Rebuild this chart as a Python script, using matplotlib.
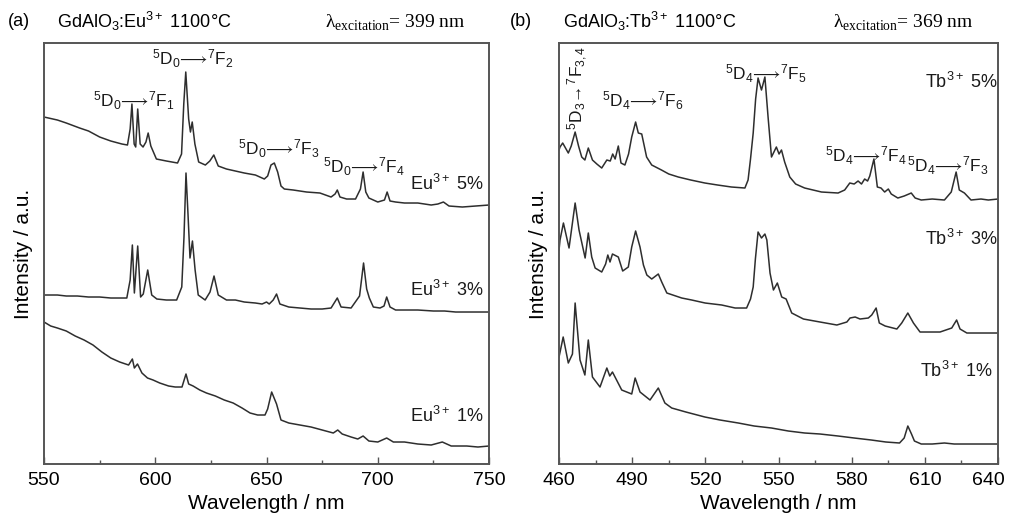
import matplotlib
matplotlib.use("Agg")
import matplotlib.pyplot as plt
from matplotlib.transforms import ScaledTranslation

plt.rcParams['font.family'] = ['Liberation Sans', 'DejaVu Sans']
plt.rcParams['mathtext.fontset'] = 'custom'
plt.rcParams['mathtext.rm'] = 'Liberation Sans'
plt.rcParams['mathtext.it'] = 'Liberation Sans:italic'

# --- (a) GdAlO3:Eu3+ spectra (intensity in arbitrary units) ---
eu5_wl = [550, 556, 560, 566, 570, 575, 580, 585, 587.5, 588.7, 589.5, 590.5, 591.2, 592.1,
          593.2, 594.5, 595.8, 596.8, 598, 600.5, 605, 610, 611.8, 612.8, 613.7, 615, 615.8,
          616.6, 617.8, 619.5, 622.5, 624.5, 626.3, 628.3, 632, 636, 640, 645, 649, 650.5, 652,
          653.5, 655, 656.5, 658, 662, 668, 674, 679, 680.8, 681.8, 683, 686, 690, 692.2, 693.4,
          694.6, 696, 700, 703, 704.2, 705.5, 708, 712, 718, 724, 727, 729.5, 732, 738, 744, 750]
eu5_int = [347, 344, 341, 336, 333, 327, 323, 320, 319, 335, 360, 320, 317, 355,
           320, 317, 322, 331, 318, 305, 303, 301, 310, 360, 392, 345, 332,
           342, 320, 302, 299, 303, 309, 298, 295, 293, 291, 289, 285, 288, 299,
           301, 292, 278, 275, 274, 272, 271, 267, 270, 274, 267, 265, 265, 275, 292,
           272, 266, 262, 264, 272, 263, 262, 261, 261, 259, 260, 262, 258, 257, 258, 259]

eu3_wl = [550, 556, 560, 565, 570, 575, 580, 584, 587.2, 588.7, 589.7, 590.6, 592.1, 593.4,
          594.6, 596.6, 598.4, 600.7, 605, 609.6, 611.9, 612.9, 613.8, 614.7, 615.6, 616.7,
          617.9, 619.3, 622.4, 624.6, 626.4, 628.3, 632, 636, 640, 645, 648, 650, 651.2, 653,
          654.5, 656, 660, 665, 670, 675, 679, 681.8, 683.5, 688, 691.8, 693.6, 695, 696.2, 698,
          701, 702.8, 704, 705.5, 708, 712, 718, 725, 730, 735, 740, 745, 750]
eu3_int = [169, 169, 168, 168, 167, 167, 166, 166, 166, 184, 219, 171, 218, 167,
           170, 194, 169, 165, 164, 164, 177, 227, 291, 250, 206, 223,
           194, 169, 164, 172, 188, 169, 164, 164, 162, 161, 160, 162, 160, 164,
           170, 160, 157, 156, 155, 155, 156, 166, 157, 156, 168, 201, 175, 166, 157,
           156, 158, 167, 157, 154, 154, 154, 153, 153, 152, 152, 152, 152]

eu1_wl = [550, 553, 556, 560, 564, 568, 572, 576, 580, 584, 588, 589.7, 590.6, 592, 594,
          596.5, 599, 602, 606, 609, 612, 613.8, 615, 617, 620, 623, 627, 631, 635, 639,
          642.6, 646, 649.3, 650.5, 652.3, 654.5, 656.5, 660, 665, 670, 675, 680, 682, 684,
          688, 691, 693.4, 696, 700, 704, 707, 712, 718, 724, 729, 733, 740, 745, 750]
eu1_int = [142, 138, 136, 133, 128, 124, 119, 112, 106, 102, 99, 105, 96, 100, 91,
           86, 84, 81, 78, 77, 77, 90, 80, 78, 74, 71, 68, 64, 61, 56,
           51, 49, 49, 55, 72, 60, 44, 41, 39, 37, 34, 31, 34, 30,
           27, 25, 28, 23, 22, 26, 22, 22, 20, 19, 22, 18, 18, 17, 18]

# --- (b) GdAlO3:Tb3+ spectra ---
tb5_wl = [460, 460.4, 461.5, 463.8, 465, 466.6, 468, 469.3, 470.6, 472, 473.7, 475.5, 477.5,
          479.6, 481, 482, 483, 484.3, 485.4, 487, 488.5, 489.8, 491.4, 492.5, 493.9, 495.9,
          498, 502, 505, 508.9, 514, 519.8, 525, 530.7, 536.2, 537.5, 538.5, 539.6, 540.6,
          541.6, 543, 544.4, 545.7, 547.1, 549.1, 550.2, 551.2, 552.5, 554.6, 557, 560.7,
          567.6, 574.4, 577.1, 579.2, 581, 582.6, 584, 585.3, 586.5, 587.4, 589.1, 590.5, 592,
          593.5, 595, 596.2, 598.9, 601.5, 604.4, 606, 608.5, 613, 618, 620.8, 622.8, 624.1,
          626.2, 628.9, 633, 636, 640]
tb5_int = [314, 317, 321, 311, 318, 332, 318, 307, 304, 316, 304, 300, 296,
           304, 303, 310, 305, 318, 301, 299, 310, 327, 342, 331, 330, 307,
           299, 294, 290, 287, 284, 281, 279, 277, 276, 284, 305, 331, 365,
           386, 374, 387, 347, 307, 317, 310, 314, 302, 287, 280, 276,
           272, 271, 274, 281, 280, 283, 280, 285, 283, 288, 305, 277, 276,
           272, 275, 270, 266, 268, 271, 266, 264, 265, 264, 272, 292, 274,
           271, 264, 265, 264, 265]

tb3_wl = [460, 460.4, 461.8, 464.1, 466.6, 468.2, 470.7, 472, 473.4, 474.8, 477.5, 479.1, 480,
          480.9, 481.9, 484.3, 486.1, 488.4, 489.8, 491.4, 493.2, 494.6, 496, 498, 500.7,
          502.1, 504.2, 510.3, 514.4, 519.9, 526.7, 532.2, 536.9, 538.5, 539.6, 540.5, 541.6,
          543, 544.4, 545.2, 546.5, 547.9, 549.5, 551.3, 553.1, 555.4, 560.2, 567, 573.9, 578,
          579.3, 581.4, 583.4, 586.8, 588.2, 590, 591.3, 593.7, 598.5, 600.5, 603, 605.3, 608,
          616.2, 621, 623, 624.4, 627.2, 638, 640]
tb3_int = [214, 224, 241, 216, 261, 234, 206, 231, 207, 196, 192, 200, 209,
           202, 210, 207, 193, 197, 217, 233, 217, 199, 189, 185, 190,
           182, 171, 166, 164, 161, 159, 156, 156, 165, 177, 205, 232,
           226, 230, 224, 191, 174, 181, 167, 165, 151, 145, 142, 139, 142,
           146, 147, 145, 146, 149, 156, 141, 138, 135, 141, 151, 141, 132,
           132, 136, 144, 135, 131, 131, 131]

tb1_wl = [460, 461.7, 463.8, 465.5, 466.6, 468.6, 470.6, 472, 473.7, 476.8, 479.6, 480.8,
          481.9, 485.7, 489.8, 491.2, 493.2, 497.3, 500.7, 503.4, 506.2, 512, 519.8, 526,
          533.5, 540, 547.1, 554, 560.7, 567, 574.4, 581, 588, 594, 599.6, 601.5, 603, 604.5,
          605.7, 608.5, 613, 618, 622, 630, 640]
tb1_int = [107, 127, 101, 110, 161, 104, 89, 124, 87, 77, 96, 88,
           92, 74, 70, 86, 72, 64, 76, 61, 56, 52, 47, 44,
           41, 38, 36, 33, 31, 30, 28, 26, 24, 22, 21, 26, 38, 30,
           23, 20, 20, 21, 20, 20, 20]

ticks_a = [550, 600, 650, 700, 750]
minor_a = [575, 625, 675, 725]
ticks_b = [460, 490, 520, 550, 580, 610, 640]
minor_b = [475, 505, 535, 565, 595, 625]

line_color = '#2e2e2e'
spine_color = '#555555'

fig = plt.figure(figsize=(10.1, 5.17), dpi=100)
ax1 = fig.add_axes([0.0436, 0.1025, 0.4406, 0.8143])
ax2 = fig.add_axes([0.5535, 0.1025, 0.4347, 0.8143])

for wl, val in [(eu5_wl, eu5_int), (eu3_wl, eu3_int), (eu1_wl, eu1_int)]:
    ax1.plot(wl, val, color=line_color, lw=1.1)
for wl, val in [(tb5_wl, tb5_int), (tb3_wl, tb3_int), (tb1_wl, tb1_int)]:
    ax2.plot(wl, val, color=line_color, lw=1.1)

ax1.set_xlim(550, 750)
ax2.set_xlim(460, 640)
ax1.set_xticks(ticks_a)
ax1.set_xticks(minor_a, minor=True)
ax2.set_xticks(ticks_b)
ax2.set_xticks(minor_b, minor=True)

for ax in (ax1, ax2):
    ax.set_ylim(0, 421)
    ax.set_yticks([])
    ax.tick_params(axis='x', which='both', direction='in', labelsize=14,
                   color=spine_color, pad=6)
    ax.tick_params(axis='x', which='major', length=5, width=1)
    ax.tick_params(axis='x', which='minor', length=3, width=1)
    for s in ax.spines.values():
        s.set_color(spine_color)
        s.set_linewidth(1.4)
    ax.set_xlabel('Wavelength / nm', fontsize=15, labelpad=3)
    ax.set_ylabel('Intensity / a.u.', fontsize=15, labelpad=8)

# keep the last label of panel (b) inside the figure
last = ax2.get_xticklabels()[-1]
last.set_transform(last.get_transform() + ScaledTranslation(-7 / 72, 0, fig.dpi_scale_trans))

arr = r'$\!\longrightarrow\!$'
kw = dict(fontsize=12.5, va='baseline', ha='left', color='#1a1a1a')

# panel (a) annotations
ax1.text(572.0, 357, r'$^5$D$_0$' + arr + r'$^7$F$_1$', **kw)
ax1.text(598.5, 399, r'$^5$D$_0$' + arr + r'$^7$F$_2$', **kw)
ax1.text(637.2, 309, r'$^5$D$_0$' + arr + r'$^7$F$_3$', **kw)
ax1.text(675.4, 291, r'$^5$D$_0$' + arr + r'$^7$F$_4$', **kw)
lab = dict(fontsize=13, va='baseline', ha='left', color='#1a1a1a')
ax1.text(714.5, 274, r'Eu$^{3+}$ 5%', **lab)
ax1.text(714.5, 168, r'Eu$^{3+}$ 3%', **lab)
ax1.text(714.5, 42, r'Eu$^{3+}$ 1%', **lab)

# panel (b) annotations
ax2.text(467.8, 334, r'$^5$D$_3$$\!\rightarrow\!$$^7$F$_{3,4}$', rotation=90,
         fontsize=12.5, ha='center', va='bottom', color='#1a1a1a')
ax2.text(477.6, 357, r'$^5$D$_4$' + arr + r'$^7$F$_6$', **kw)
ax2.text(528.0, 384, r'$^5$D$_4$' + arr + r'$^7$F$_5$', **kw)
ax2.text(569.0, 302, r'$^5$D$_4$' + arr + r'$^7$F$_4$', **kw)
ax2.text(602.5, 292, r'$^5$D$_4$' + arr + r'$^7$F$_3$', **kw)
ax2.text(610.0, 376, r'Tb$^{3+}$ 5%', **lab)
ax2.text(610.0, 219, r'Tb$^{3+}$ 3%', **lab)
ax2.text(608.0, 87, r'Tb$^{3+}$ 1%', **lab)

# header lines
hy = 0.958
fig.text(8 / 1010, hy, '(a)', fontsize=13, va='center')
fig.text(57 / 1010, hy, r'GdAlO$_3$:Eu$^{3+}$ 1100°C', fontsize=13, va='center')
fig.text(325 / 1010, hy, r'λ$_{\mathregular{excitation}}$= 399 nm', fontsize=14,
         family='Liberation Serif', va='center')
fig.text(510 / 1010, hy, '(b)', fontsize=13, va='center')
fig.text(563 / 1010, hy, r'GdAlO$_3$:Tb$^{3+}$ 1100°C', fontsize=13, va='center')
fig.text(833 / 1010, hy, r'λ$_{\mathregular{excitation}}$= 369 nm', fontsize=14,
         family='Liberation Serif', va='center')

fig.savefig('out.png', dpi=100)
